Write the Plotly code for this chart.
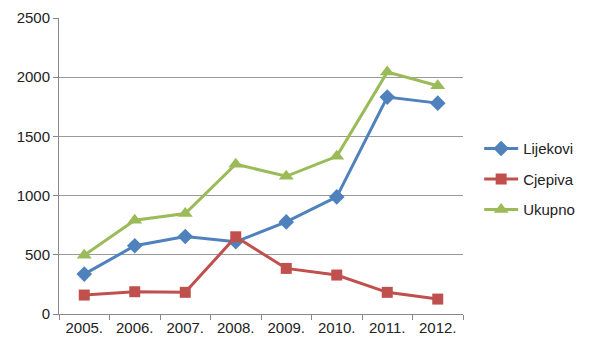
import plotly.graph_objects as go

years = ["2005.", "2006.", "2007.", "2008.", "2009.", "2010.", "2011.", "2012."]
lijekovi = [337, 576, 655, 610, 778, 989, 1832, 1781]
cjepiva = [160, 188, 183, 652, 385, 329, 183, 126]
ukupno = [497, 792, 849, 1265, 1163, 1332, 2043, 1928]

fig = go.Figure()
fig.add_trace(go.Scatter(x=years, y=lijekovi, name="Lijekovi", mode="lines+markers",
                         legendgroup="a",
                         line=dict(color="#4F81BD", width=3),
                         marker=dict(symbol="diamond", size=12, color="#4F81BD")))
fig.add_trace(go.Scatter(x=years, y=cjepiva, name="Cjepiva", mode="lines+markers",
                         legendgroup="b",
                         line=dict(color="#C0504D", width=3),
                         marker=dict(symbol="square", size=11, color="#C0504D")))
fig.add_trace(go.Scatter(x=years, y=ukupno, name="Ukupno", mode="lines+markers",
                         legendgroup="c",
                         line=dict(color="#9BBB59", width=3),
                         marker=dict(symbol="triangle-up", size=13, color="#9BBB59")))

fig.update_layout(
    width=585, height=347,
    margin=dict(l=51, r=130, t=10, b=41, autoexpand=False),
    paper_bgcolor="white", plot_bgcolor="white",
    font=dict(family="Liberation Sans", size=15, color="#222"),
    legend=dict(x=1.04, y=0.455, yanchor="middle", xanchor="left",
                font=dict(size=15), tracegroupgap=8, itemwidth=34),
    showlegend=True,
)
fig.update_xaxes(type="category", range=[-0.5, 7.5], showline=True, linecolor="#888",
                 linewidth=1, ticks="outside", ticklen=5, tickcolor="#888",
                 tickson="boundaries", showgrid=False, tickfont=dict(size=15),
                 automargin=False)
fig.update_yaxes(range=[0, 2500], dtick=500, showline=True, linecolor="#888", linewidth=1,
                 ticks="outside", ticklen=5, tickcolor="#888", showgrid=True,
                 gridcolor="#999", gridwidth=1, zeroline=False, tickfont=dict(size=15),
                 automargin=False)

fig.write_html("out.html")
